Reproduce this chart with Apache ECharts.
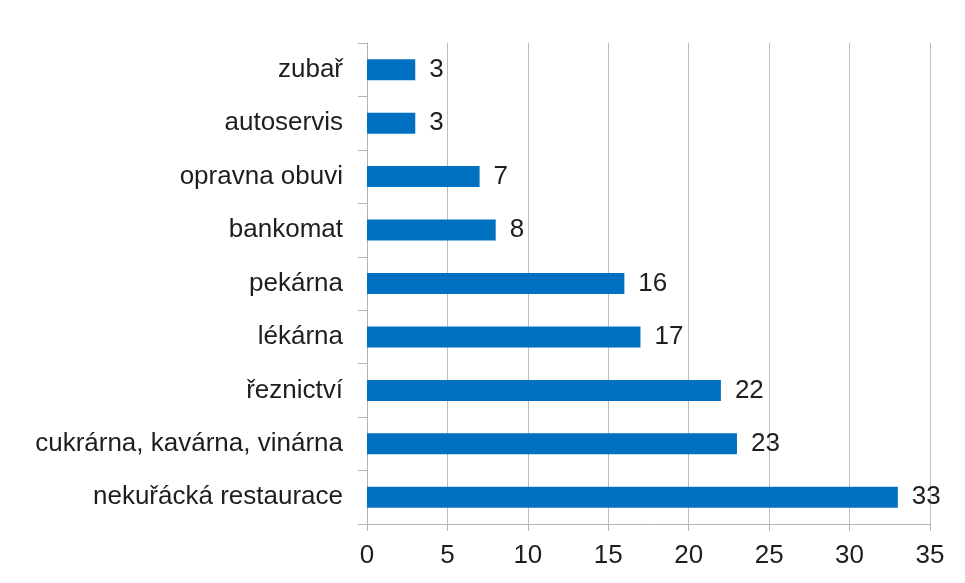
<!DOCTYPE html>
<html>
<head>
<meta charset="utf-8">
<script src="https://cdn.jsdelivr.net/npm/echarts@6/dist/echarts.min.js"></script>
<style>
    html, body { margin: 0; padding: 0; background: #fff; }
    #chart { width: 965px; height: 583px; }
</style>
</head>
<body>
<div id="chart"></div>
<script>
// kategorie odspodu nahoru (jak je kreslí kategoriální osa y)
var categories = [
    'nekuřácká restaurace',
    'cukrárna, kavárna, vinárna',
    'řeznictví',
    'lékárna',
    'pekárna',
    'bankomat',
    'opravna obuvi',
    'autoservis',
    'zubař',
]
var counts = [33, 23, 22, 17, 16, 8, 7, 3, 3]
var xTicks = [0, 5, 10, 15, 20, 25, 30, 35]

var font = 'Liberation Sans, Arial, sans-serif'
var myChart = echarts.init(document.getElementById('chart'))

var option = {
    animation: false,
    grid: {
        top: 43,
        left: 367,
        right: 35,
        bottom: 59,
    },
    xAxis: {
        type: 'value',
        min: xTicks[0],
        max: xTicks[xTicks.length - 1],
        interval: 5,
        axisLine: {
            show: true,
            lineStyle: { color: '#b4b4b4', width: 1 },
        },
        axisTick: {
            show: true,
            length: 7,
            lineStyle: { color: '#b4b4b4' },
        },
        axisLabel: {
            margin: 19,
            fontFamily: font,
            fontSize: 26,
            color: '#1e1e1e',
        },
        splitLine: {
            show: true,
            lineStyle: { color: '#bdbdbd', width: 1 },
        },
    },
    yAxis: {
        type: 'category',
        data: categories,
        axisLine: {
            show: true,
            lineStyle: { color: '#b4b4b4', width: 1 },
        },
        axisTick: {
            show: true,
            length: 9,
            lineStyle: { color: '#b4b4b4' },
        },
        axisLabel: {
            margin: 24,
            fontFamily: font,
            fontSize: 26,
            color: '#1e1e1e',
        },
    },
    series: [
        {
            type: 'bar',
            data: counts,
            barWidth: 21,
            itemStyle: {
                color: '#0070c0',
            },
            label: {
                show: true,
                position: 'right',
                distance: 14,
                fontFamily: font,
                fontSize: 26,
                color: '#1e1e1e',
            },
        },
    ],
}

myChart.setOption(option)
</script>
</body>
</html>
